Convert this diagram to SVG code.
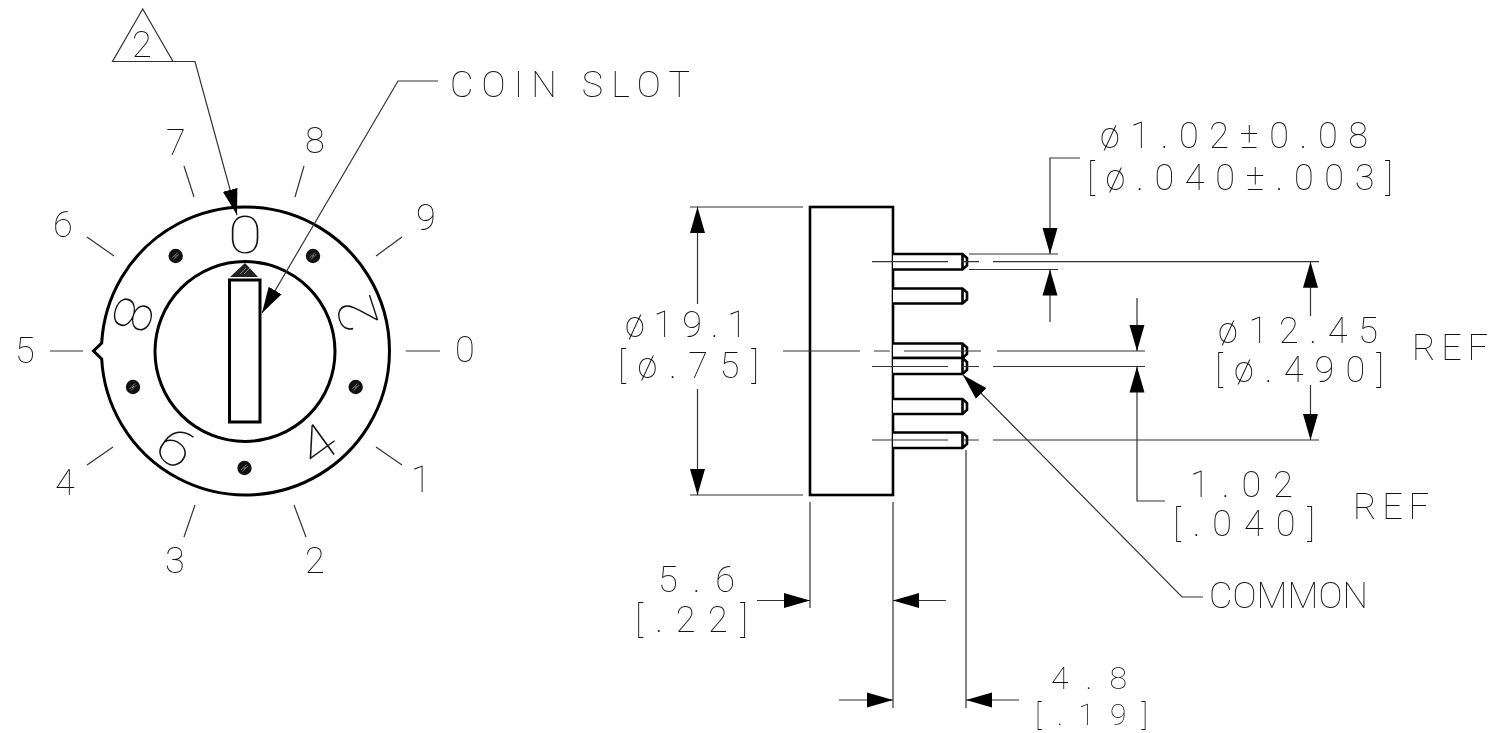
<svg xmlns="http://www.w3.org/2000/svg" width="1490" height="733" viewBox="0 0 1490 733">
<style>
.t{font-family:"Roboto","Lato","Liberation Sans",sans-serif;font-weight:100;font-size:36px;fill:#111}
.tg{opacity:.99}
.d{font-size:52px;text-anchor:middle}
.l{stroke:#333;stroke-width:1.2;fill:none}
.a{marker-end:url(#ah)}
.h{stroke:#000;stroke-width:3;fill:#fff}
.p{stroke:#000;stroke-width:2.6;fill:#fff;stroke-linejoin:miter}
.g{stroke:#000;stroke-width:2.6;fill:#777}
.dot{fill:#111}
.ht{stroke:#999;stroke-width:.8}
</style>
<defs>
<marker id="ah" markerUnits="userSpaceOnUse" markerWidth="28" markerHeight="16" refX="26" refY="8" orient="auto" viewBox="0 0 28 16"><path d="M26,8 L0,0.500 L0,15.500 Z" fill="#000"/></marker>
<g id="screw"><circle r="7.2" class="dot"/><path class="ht" d="M-3.5,2 L2,-3.5 M-2,3.500 L3.500,-2 M-1,1 L1,-1"/></g>
</defs>
<rect width="1490" height="733" fill="#fff"/>
<g id="dial">
<path class="h" d="M101.700,343 A144,144 0 1 1 101.700,359 L93.500,351 Z"/>
<circle class="h" cx="245" cy="351.500" r="90"/>
<rect class="h" x="229.500" y="280" width="30.500" height="142"/>
<path d="M245,263 L258,277 L230,277 Z" fill="#222"/><path class="ht" d="M240,274 L246,268 M244,274 L250,268"/>
<use href="#screw" x="175.700" y="256"/><use href="#screw" x="313" y="256"/><use href="#screw" x="133" y="387"/><use href="#screw" x="355.700" y="387"/><use href="#screw" x="244.500" y="468"/>
<g class="tg">
<text class="t d" transform="translate(245,234) scale(1.2,1) translate(0,18.500)">0</text>
<text class="t d" transform="translate(357,314) rotate(252) scale(1.2,1) translate(0,18.500)">2</text>
<text class="t d" transform="translate(317,444) rotate(324) scale(1.2,1) translate(0,18.500)">4</text>
<text class="t d" transform="translate(176,447) rotate(36) scale(1.2,1) translate(0,18.500)">6</text>
<text class="t d" transform="translate(133,315) rotate(108) scale(1.2,1) translate(0,18.500)">8</text>
</g>
</g>
<g id="dial-positions">
<path class="l" d="M50,351H83M405.700,351H440M184,166L194,197M304,166L295,197M402,237L376,256M87,237L114,256M113,447L87,465M376,447L402,465M195,505L184,537M294,505L306,537"/>
<g class="tg"><text class="t" x="166" y="155">7</text><text class="t" x="305" y="153">8</text><text class="t" x="416" y="230">9</text><text class="t" x="53" y="237">6</text><text class="t" x="15" y="363">5</text><text class="t" x="455" y="362">0</text><text class="t" x="411" y="492">1</text><text class="t" x="55" y="495">4</text><text class="t" x="165" y="573">3</text><text class="t" x="305" y="573">2</text></g>
</g>
<g id="note-2">
<path class="l" d="M142.700,9 L112.500,61.500 H173 Z"/>
<text class="t" x="132" y="57">2</text>
</g>
<g id="body">
<rect class="p" x="810" y="207" width="83" height="288"/>
<g id="pins">
<path class="p" d="M893,254 H962.500 L967,258 V265.500 L962.500,269.500 H893"/>
<path class="p" d="M893,288.500 H962.500 L967,292.500 V299.500 L962.500,303.500 H893"/>
<path class="p" d="M893,343.500 H962.500 L967,347.500 V354 L962.500,358 H893"/>
<path class="p" d="M893,358 H962.500 L967,362 V370 L962.500,374 H893"/>
<path class="p" d="M893,399 H962.500 L967,403 V410 L962.500,414 H893"/>
<path class="p" d="M893,432.500 H962.500 L967,436.500 V444 L962.500,448 H893"/>
<path class="g" d="M962.500,255V269M962.500,289V303M962.500,344V358M962.500,358V374M962.500,399V414M962.500,433V448"/>
</g>
</g>
<g id="connectors">
<path class="l a" d="M173,61.500H195L237,215"/>
<path class="l a" d="M438,81H398L262,313"/>
<path class="l a" d="M1203,597H1182L963,375"/>
<path class="l" d="M690,207H803M690,495H803"/>
<path class="l a" d="M697.500,304V207"/><path class="l a" d="M697.500,389V495"/>
<path class="l" d="M783,351H860M874,351H890M904,351H981M997,351H1145"/>
<path class="l" d="M872,261.700H948M962,261.700H979M993,261.700H1319"/>
<path class="l" d="M872,366.500H948M962,366.500H979M993,366.500H1145"/>
<path class="l" d="M872,440H948M962,440H979M993,440H1319"/>
<path class="l" d="M969,254H1058M969,269.500H1058"/>
<path class="l a" d="M1080,158H1050V254"/><path class="l a" d="M1050,322V269.500"/>
<path class="l a" d="M1137,298V351"/><path class="l a" d="M1165,501H1137V366.500"/>
<path class="l a" d="M1310.500,316V261.700"/><path class="l a" d="M1310.500,385V440"/>
<path class="l" d="M810,502V608M893,502V708M966,450V708"/>
<path class="l a" d="M757,600.500H810"/><path class="l a" d="M946,600.500H893"/>
<path class="l a" d="M839,700H893"/><path class="l a" d="M1019,700H966"/>
</g>
<g id="labels" class="tg">
<text class="t" x="450" y="97" textLength="240">COIN SLOT</text>
<text class="t" x="1100" y="148" textLength="268">ø1.02±0.08</text>
<text class="t" x="1087" y="190" textLength="306">[ø.040±.003]</text>
<text class="t" x="1218" y="343" textLength="160">ø12.45</text>
<text class="t" x="1215" y="382" textLength="169">[ø.490]</text>
<text class="t" x="1412" y="360" textLength="76">REF</text>
<text class="t" x="1190" y="497" textLength="103">1.02</text>
<text class="t" x="1173" y="536" textLength="142">[.040]</text>
<text class="t" x="1353" y="519" textLength="76">REF</text>
<text class="t" x="1209" y="608" textLength="159">COMMON</text>
<text class="t" x="1051" y="689" textLength="76" style="font-size:32px">4.8</text>
<text class="t" x="1035" y="725" textLength="113" style="font-size:30px">[.19]</text>
<text class="t" x="658" y="592" textLength="77">5.6</text>
<text class="t" x="635" y="632" textLength="113">[.22]</text>
<text class="t" x="625" y="337" textLength="122">ø19.1</text>
<text class="t" x="618" y="378" textLength="141">[ø.75]</text>
</g>
</svg>
